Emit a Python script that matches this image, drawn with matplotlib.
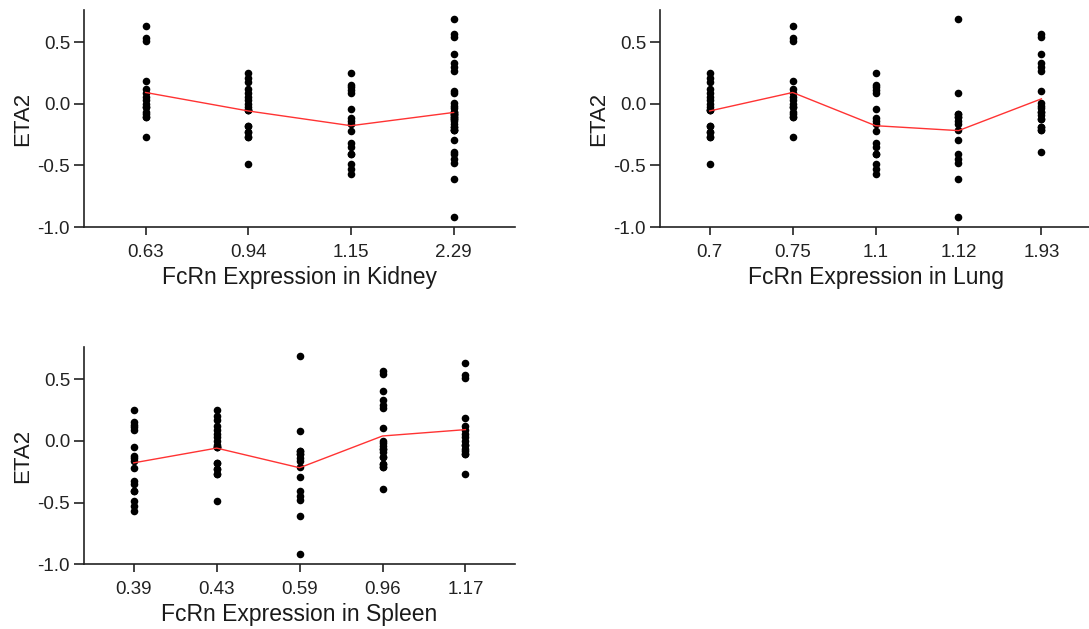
import numpy as np
import pandas as pd
import matplotlib
matplotlib.use("Agg")
import matplotlib.pyplot as plt

plt.rcParams['font.family'] = ['Liberation Sans', 'DejaVu Sans']
plt.rcParams['axes.unicode_minus'] = False

# ETA2 values for the five subject groups (a few
# overlapping repeats sit inside the dense clusters)
eta_a = [0.247, 0.206, 0.173, 0.117, 0.089, 0.057, 0.030, -0.003, -0.030, -0.051,
         -0.182, -0.228, -0.268, -0.485, -0.27, -0.23, -0.05, -0.05, -0.18]
eta_b = [0.631, 0.537, 0.512, 0.184, 0.117, 0.089, 0.057, 0.030, -0.003, -0.030,
         -0.065, -0.084, -0.106, -0.268, -0.03, -0.106]
eta_c = [0.247, 0.152, 0.133, 0.111, 0.089, -0.046, -0.119, -0.138, -0.165, -0.220,
         -0.322, -0.350, -0.409, -0.485, -0.526, -0.566, -0.409]
eta_d = [0.686, 0.084, -0.079, -0.106, -0.138, -0.165, -0.209, -0.295, -0.409,
         -0.444, -0.480, -0.607, -0.919, -0.079, -0.106]
eta_e = [0.566, 0.545, 0.404, 0.328, 0.295, 0.268, 0.106, 0.003, -0.019, -0.038,
         -0.065, -0.092, -0.127, -0.187, -0.209, -0.390, -0.065, -0.127, -0.187, -0.209]

groups = ["A", "B", "C", "D", "E"]
kidney = ["0.94", "0.63", "1.15", "2.29", "2.29"]
lung = ["0.7", "0.75", "1.1", "1.12", "1.93"]
spleen = ["0.43", "1.17", "0.39", "0.59", "0.96"]

rows = []
for g, vals, k, l, s in zip(groups, [eta_a, eta_b, eta_c, eta_d, eta_e], kidney, lung, spleen):
    for v in vals:
        rows.append({"group": g, "ETA2": v, "Kidney": k, "Lung": l, "Spleen": s})
df = pd.DataFrame(rows)

fig = plt.figure(figsize=(10.89, 6.29), dpi=100)
positions = {
    "Kidney": [0.0771, 0.639, 0.396, 0.345],
    "Lung": [0.606, 0.639, 0.396, 0.345],
    "Spleen": [0.0771, 0.103, 0.396, 0.345],
}

for tissue, rect in positions.items():
    ax = fig.add_axes(rect)
    cats = sorted(df[tissue].unique(), key=float)
    xpos = {c: i for i, c in enumerate(cats)}
    x = df[tissue].map(xpos)
    ax.scatter(x, df["ETA2"], s=30, color="black", zorder=3, linewidths=0)
    # red line = group mean per expression level
    means = df.groupby(tissue)["ETA2"].mean().reindex(cats)
    ax.plot(range(len(cats)), means.values, color="#ff3333", lw=1.0, zorder=4)

    ax.set_xlim(-0.6, len(cats) - 1 + 0.6)
    ax.set_ylim(-1.0, 0.76)
    ax.set_xticks(range(len(cats)))
    ax.set_xticklabels(cats)
    ax.set_yticks([-1.0, -0.5, 0.0, 0.5])
    ax.set_yticklabels(["-1.0", "-0.5", "0.0", "0.5"])
    ax.set_xlabel("FcRn Expression in " + tissue, fontsize=16.5, color="#1a1a1a", labelpad=4)
    ax.set_ylabel("ETA2", fontsize=16, color="#1a1a1a", labelpad=3)
    ax.tick_params(axis="both", labelsize=13.5, colors="#222222", width=1.2)
    ax.tick_params(axis="x", length=6, pad=6)
    ax.tick_params(axis="y", length=7, pad=3)
    for sp in ["top", "right"]:
        ax.spines[sp].set_visible(False)
    for sp in ["left", "bottom"]:
        ax.spines[sp].set_linewidth(1.2)
        ax.spines[sp].set_color("#222222")

fig.savefig("out.png", dpi=100)
